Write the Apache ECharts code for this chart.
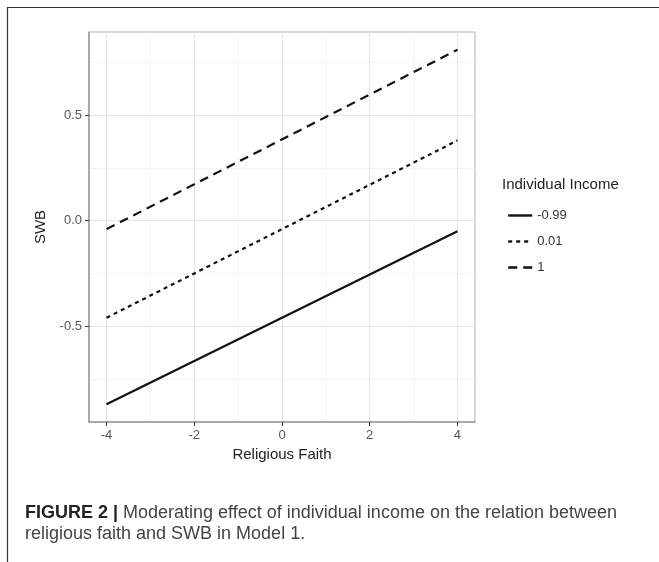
<!DOCTYPE html>
<html>
<head>
<meta charset="utf-8">
<script src="https://cdn.jsdelivr.net/npm/echarts@6/dist/echarts.min.js"></script>
<style>
  html, body { margin: 0; padding: 0; background: #fff; }
  #chart { width: 659px; height: 562px; }
</style>
</head>
<body>
<div id="chart"></div>
<script>
// x values: religious faith (the two ends of each fitted line)
var faith = [-4, 4];
// legend entries: individual income level
var incomeLevels = ['-0.99', '0.01', '1'];
// SWB at faith = -4 and faith = 4
var swbLow = [-0.87, -0.05];
var swbMid = [-0.46, 0.38];
var swbHigh = [-0.04, 0.81];
// tick labels
var xTicks = [-4, -2, 0, 2, 4];
var xMinor = [-3, -1, 1, 3];
var yTicks = [-0.5, 0, 0.5];
var yMinor = [-0.75, -0.25, 0.25, 0.75];

var FONT = 'Liberation Sans, Arial, sans-serif';

function pairs(ys) {
    return faith.map(function (x, i) { return [x, ys[i]]; });
}

var chart = echarts.init(document.getElementById('chart'));

var gridBox = {left: 89, right: 184, top: 32, bottom: 140};

var option = {
    animation: false,
    backgroundColor: '#fff',
    grid: [
        Object.assign({show: true, borderColor: '#b3b3b3', borderWidth: 1}, gridBox)
    ],
    graphic: [
        {
            type: 'polyline',
            shape: {points: [[659, 7.5], [7.5, 7.5], [7.5, 562]]},
            style: {stroke: '#333', lineWidth: 1.2, fill: null}
        },
        {
            type: 'text',
            left: 502,
            top: 177,
            style: {text: 'Individual Income', font: '15px ' + FONT, fill: '#222'}
        },
        {
            type: 'text',
            left: 25,
            top: 503,
            style: {
                text: '{b|FIGURE 2 |} Moderating effect of individual income on the relation between\nreligious faith and SWB in Model 1.',
                font: '18px ' + FONT,
                fill: '#444',
                lineHeight: 21,
                rich: {
                    b: {fontWeight: 'bold', fontSize: 18, fontFamily: FONT, fill: '#222', lineHeight: 21}
                }
            }
        }
    ],
    legend: {
        orient: 'vertical',
        left: 502,
        top: 204,
        itemWidth: 24,
        itemHeight: 14,
        itemGap: 13,
        itemStyle: {opacity: 0},
        lineStyle: {width: 2.4},
        textStyle: {fontFamily: FONT, fontSize: 13, color: '#333'},
        data: incomeLevels
    },
    xAxis: [
        {
            type: 'value',
            min: -4.4,
            max: 4.4,
            name: 'Religious Faith',
            nameLocation: 'middle',
            nameGap: 25,
            nameTextStyle: {fontFamily: FONT, fontSize: 15, color: '#222'},
            axisLine: {show: true, onZero: false, lineStyle: {color: '#999', width: 1.5}},
            axisTick: {show: true, length: 4, customValues: xTicks, lineStyle: {color: '#333'}},
            axisLabel: {customValues: xTicks, margin: 7, fontFamily: FONT, fontSize: 13, color: '#555'},
            splitLine: {show: true, lineStyle: {color: '#e6e6e6', width: 1.2}}
        },
        {
            type: 'value',
            min: -4.4,
            max: 4.4,
            position: 'bottom',
            axisLine: {show: false},
            axisTick: {show: false, customValues: xMinor},
            axisLabel: {show: false, customValues: xMinor},
            splitLine: {show: true, lineStyle: {color: '#f2f2f2', width: 0.8}}
        }
    ],
    yAxis: [
        {
            type: 'value',
            min: -0.954,
            max: 0.894,
            name: 'SWB',
            nameLocation: 'middle',
            nameGap: 37,
            nameTextStyle: {fontFamily: FONT, fontSize: 15, color: '#222'},
            axisLine: {show: true, onZero: false, lineStyle: {color: '#999', width: 1.5}},
            axisTick: {show: true, length: 4, customValues: yTicks, lineStyle: {color: '#333'}},
            axisLabel: {
                customValues: yTicks,
                margin: 7,
                fontFamily: FONT,
                fontSize: 13,
                color: '#555',
                formatter: function (v) { return v.toFixed(1); }
            },
            splitLine: {show: true, lineStyle: {color: '#e6e6e6', width: 1.2}}
        },
        {
            type: 'value',
            min: -0.954,
            max: 0.894,
            position: 'left',
            axisLine: {show: false},
            axisTick: {show: false, customValues: yMinor},
            axisLabel: {show: false, customValues: yMinor},
            splitLine: {show: true, lineStyle: {color: '#f2f2f2', width: 0.8}}
        }
    ],
    series: [
        {
            name: incomeLevels[0],
            type: 'line',
            symbol: 'none',
            data: pairs(swbLow),
            lineStyle: {color: '#111', width: 2.2, type: 'solid'},
            itemStyle: {color: '#111'}
        },
        {
            name: incomeLevels[1],
            type: 'line',
            symbol: 'none',
            data: pairs(swbMid),
            lineStyle: {color: '#111', width: 2.2, type: [4, 4]},
            itemStyle: {color: '#111'}
        },
        {
            name: incomeLevels[2],
            type: 'line',
            symbol: 'none',
            data: pairs(swbHigh),
            lineStyle: {color: '#111', width: 2.2, type: [9, 6]},
            itemStyle: {color: '#111'}
        }
    ]
};

chart.setOption(option);
</script>
</body>
</html>
